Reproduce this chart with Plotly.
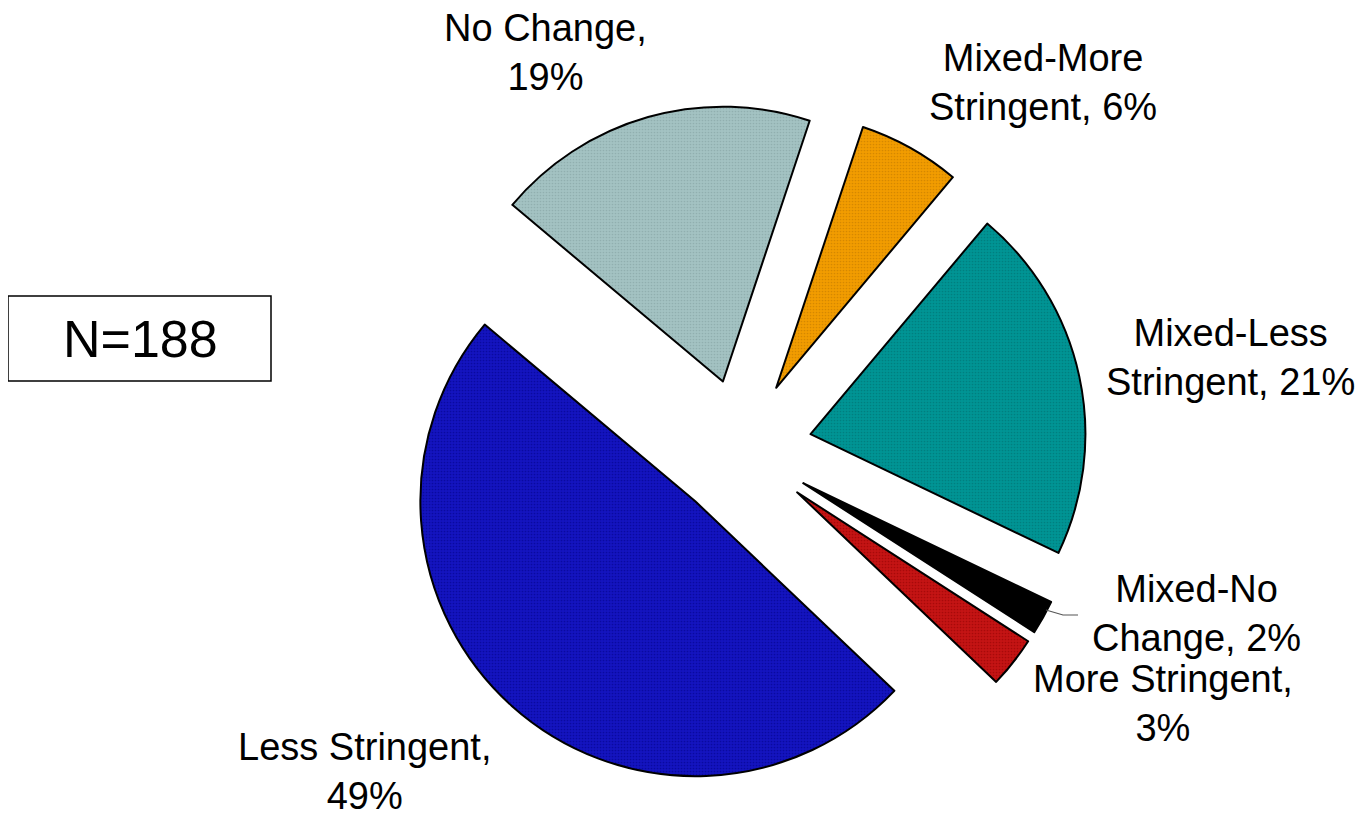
import plotly.graph_objects as go

# ---- data ----
categories = ["No Change", "Mixed-More Stringent", "Mixed-Less Stringent",
              "Mixed-No Change", "More Stringent", "Less Stringent"]
percents = [19, 6, 21, 2, 3, 49]
label_lines = [("No Change,", "19%"), ("Mixed-More", "Stringent, 6%"),
               ("Mixed-Less", "Stringent, 21%"), ("Mixed-No", "Change, 2%"),
               ("More Stringent,", "3%"), ("Less Stringent,", "49%")]
n_total = 188

# ---- styles ----
colors = ["#a3c2c2", "#f29c00", "#009494", "#000000", "#c41414", "#1414bf"]
dot_colors = ["#7f9c9c", "#b87400", "#006a6a", "#000000", "#8a0000", "#000080"]
W, H = 1368, 817
OFF = 8  # page body margin offset compensation

# label block centres (pixels, as seen in the page)
label_pos = [(545, 52), (1043, 82), (1230, 357), (1196, 613), (1163, 703), (365, 771)]

cx, cy, half = 737 - 3 - OFF + 8, 444 - 3 - OFF + 8, 345
fig = go.Figure(go.Pie(
    labels=categories,
    values=percents,
    sort=False,
    direction="clockwise",
    rotation=-50,
    pull=[0.255] * len(percents),
    textinfo="none",
    hoverinfo="label+percent",
    showlegend=False,
    marker=dict(colors=colors,
                line=dict(color="black", width=2),
                pattern=dict(shape=".", size=3, solidity=0.25,
                             fgcolor=dot_colors, fillmode="overlay")),
    domain=dict(x=[(cx - half) / W, (cx + half) / W],
                y=[1 - (cy + half) / H, 1 - (cy - half) / H]),
))


def px(x):
    return (x - OFF) / W


def py(y):
    return 1 - (y - OFF) / H


FONT = "Liberation Sans, Arial, sans-serif"
annotations = []
for (l1, l2), (lx, ly) in zip(label_lines, label_pos):
    annotations.append(dict(
        text=f"{l1}<br>{l2}", x=px(lx), y=py(ly), xref="paper", yref="paper",
        xanchor="center", yanchor="middle", showarrow=False, align="center",
        font=dict(family=FONT, size=38, color="black")))

annotations.append(dict(
    text=f"N={n_total}", x=px(140), y=py(339), xref="paper", yref="paper",
    xanchor="center", yanchor="middle", showarrow=False,
    font=dict(family=FONT, size=52, color="black")))

shapes = [
    dict(type="rect", xref="paper", yref="paper",
         x0=px(8), x1=px(271), y0=py(381), y1=py(296),
         line=dict(color="black", width=1.5), fillcolor="rgba(0,0,0,0)"),
    dict(type="path", xref="paper", yref="paper",
         path=f"M {px(1046)} {py(610)} L {px(1063)} {py(615)} L {px(1078)} {py(615)}",
         line=dict(color="#555555", width=1.2)),
]

fig.update_layout(
    width=W, height=H,
    margin=dict(l=0, r=0, t=0, b=0),
    paper_bgcolor="white", plot_bgcolor="white",
    annotations=annotations, shapes=shapes,
)
fig.write_html("out.html")
